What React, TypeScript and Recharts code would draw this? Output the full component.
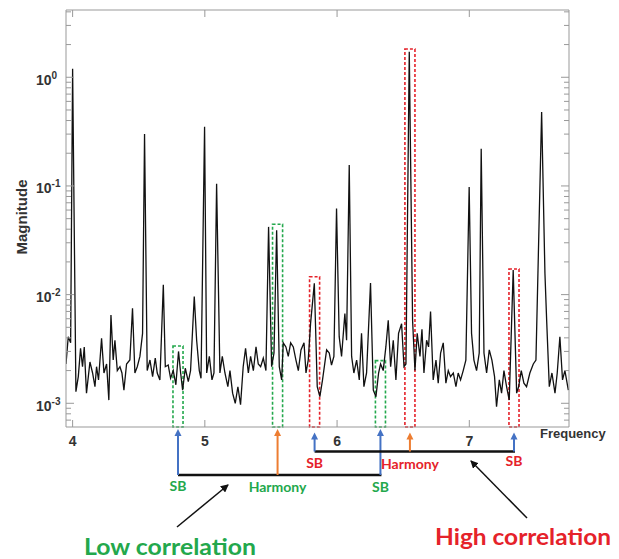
import React from 'react';
import { LineChart, Line, XAxis, YAxis, ReferenceArea } from 'recharts';

// spectrum (frequency, magnitude)
const freqs = [
  3.95, 3.967, 3.985, 4.0, 4.025, 4.043, 4.06, 4.075, 4.088, 4.105, 4.131, 4.151, 4.169, 4.181, 4.196,
  4.219, 4.237, 4.257, 4.274, 4.29, 4.307, 4.32, 4.338, 4.358, 4.373, 4.388, 4.408, 4.433, 4.453, 4.471,
  4.489, 4.509, 4.529, 4.544, 4.564, 4.585, 4.605, 4.625, 4.64, 4.66, 4.686, 4.701, 4.723, 4.741, 4.761,
  4.781, 4.801, 4.817, 4.832, 4.852, 4.875, 4.892, 4.92, 4.938, 4.958, 4.971, 4.998, 5.014, 5.034, 5.054,
  5.069, 5.089, 5.114, 5.132, 5.152, 5.174, 5.19, 5.21, 5.23, 5.25, 5.27, 5.29, 5.308, 5.329, 5.346,
  5.367, 5.387, 5.404, 5.422, 5.442, 5.462, 5.482, 5.505, 5.523, 5.543, 5.563, 5.581, 5.593, 5.613, 5.631,
  5.649, 5.669, 5.689, 5.707, 5.727, 5.75, 5.765, 5.782, 5.8, 5.828, 5.85, 5.87, 5.89, 5.921, 5.941,
  5.958, 5.976, 5.996, 6.016, 6.034, 6.059, 6.072, 6.092, 6.11, 6.127, 6.148, 6.168, 6.185, 6.203, 6.223,
  6.253, 6.274, 6.294, 6.314, 6.329, 6.349, 6.369, 6.387, 6.405, 6.425, 6.445, 6.465, 6.488, 6.506, 6.521,
  6.546, 6.571, 6.589, 6.606, 6.627, 6.642, 6.657, 6.677, 6.692, 6.707, 6.727, 6.748, 6.765, 6.783, 6.803,
  6.823, 6.841, 6.858, 6.879, 6.899, 6.916, 6.934, 6.954, 6.974, 6.999, 7.017, 7.035, 7.055, 7.075, 7.09,
  7.111, 7.131, 7.151, 7.171, 7.191, 7.206, 7.227, 7.244, 7.262, 7.282, 7.302, 7.332, 7.358, 7.373, 7.393,
  7.413, 7.433, 7.458, 7.484, 7.504, 7.547, 7.572, 7.585, 7.605, 7.625, 7.648, 7.665, 7.685, 7.705, 7.723,
  7.749,
];
const mags = [
  2.3e-3, 4.1e-3, 3.6e-3, 1.2, 1.28e-3, 1.76e-3, 3.2e-3, 2.17e-3, 3.3e-3, 1.24e-3, 2.4e-3, 1.9e-3, 1.42e-3, 2.17e-3, 1.64e-3,
  3.96e-3, 1.9e-3, 2.3e-3, 1.07e-3, 6.5e-3, 2.5e-3, 3.8e-3, 2.0e-3, 2.17e-3, 1.9e-3, 1.32e-3, 2.3e-3, 2.5e-3, 7.5e-3, 1.9e-3,
  2.17e-3, 2.7e-3, 4.4e-3, 0.3, 2.0e-3, 2.5e-3, 1.76e-3, 2.6e-3, 1.9e-3, 1.64e-3, 0.0123, 2.17e-3, 2.25e-3, 1.7e-3, 2.0e-3,
  1.48e-3, 3.0e-3, 1.9e-3, 1.32e-3, 2.1e-3, 1.58e-3, 2.0e-3, 9.6e-3, 3.8e-3, 2.0e-3, 1.7e-3, 0.35, 1.9e-3, 2.7e-3, 1.64e-3,
  1.9e-3, 0.105, 1.9e-3, 2.7e-3, 1.9e-3, 1.42e-3, 2.0e-3, 1.24e-3, 1.0e-3, 1.42e-3, 0.97e-3, 2.17e-3, 3.2e-3, 1.9e-3, 2.7e-3,
  2.0e-3, 3.3e-3, 2.3e-3, 2.17e-3, 2.6e-3, 2.0e-3, 0.042, 2.17e-3, 2.9e-3, 0.039, 2.17e-3, 1.64e-3, 3.6e-3, 3.3e-3, 2.7e-3,
  3.6e-3, 3.3e-3, 2.5e-3, 2.0e-3, 3.1e-3, 3.6e-3, 1.9e-3, 2.5e-3, 5.5e-3, 0.0127, 1.42e-3, 1.15e-3, 1.64e-3, 3.1e-3, 2.9e-3,
  2.25e-3, 2.7e-3, 0.062, 4.1e-3, 2.7e-3, 6.7e-3, 3.8e-3, 0.156, 2.7e-3, 1.9e-3, 2.5e-3, 1.64e-3, 4.4e-3, 1.42e-3, 1.9e-3,
  0.0128, 1.32e-3, 1.15e-3, 1.9e-3, 2.3e-3, 2.0e-3, 3.3e-3, 5.8e-3, 2.17e-3, 3.8e-3, 1.64e-3, 4.4e-3, 5.4e-3, 2.17e-3, 2.3e-3,
  1.72, 5.8e-3, 2.0e-3, 4.4e-3, 2.7e-3, 4.8e-3, 1.9e-3, 3.8e-3, 3.3e-3, 7.0e-3, 1.64e-3, 2.5e-3, 1.53e-3, 2.9e-3, 3.6e-3,
  1.53e-3, 2.0e-3, 1.76e-3, 1.9e-3, 1.42e-3, 1.9e-3, 1.64e-3, 2.0e-3, 2.5e-3, 0.098, 4.4e-3, 2.5e-3, 2.0e-3, 2.9e-3, 0.22,
  2.9e-3, 1.9e-3, 3.1e-3, 2.5e-3, 1.76e-3, 0.93e-3, 1.64e-3, 1.24e-3, 2.0e-3, 1.42e-3, 1.07e-3, 0.0168, 1.24e-3, 1.42e-3, 2.0e-3,
  1.53e-3, 1.42e-3, 1.9e-3, 2.3e-3, 2.5e-3, 0.48, 0.0157, 5.8e-3, 1.42e-3, 1.9e-3, 1.24e-3, 1.9e-3, 4.1e-3, 1.64e-3, 2.0e-3,
  1.32e-3,
];

const X_MIN = 3.95;
const X_MAX = 7.754;
const Y_MIN = 6.05e-4;
const Y_MAX = 4.16;
const X_TICKS = [4, 5, 6, 7];
const Y_DECADES = [1e-4, 1e-3, 1e-2, 1e-1, 1];
const Y_TICKS: number[] = [];
Y_DECADES.forEach((d) => {
  for (let k = 1; k <= 9; k++) {
    const v = d * k;
    if (v >= Y_MIN && v <= Y_MAX) Y_TICKS.push(v);
  }
});

// annotated components: SB, Harmony, SB
const markerLabels = ['SB', 'Harmony', 'SB'];
const lowFreqs = [4.797, 5.55, 6.328];
const lowTops = [3.37e-3, 0.0444, 2.47e-3];
const highFreqs = [5.83, 6.551, 7.338];
const highTops = [0.0146, 1.82, 0.0172];

const GREEN = '#23a84c';
const RED = '#e5222a';
const BLUE = '#4472c4';
const ORANGE = '#ed7d31';
const AXIS = '#999';
const TEXT = '#333';
const FONT = '"Liberation Sans", Arial, sans-serif';
const LABEL_FONT = 'Lato, "Open Sans", sans-serif';

const W = 619;
const H = 559;
const PLOT_LEFT = 66;
const PLOT_RIGHT = 569;
const BOX_HALF = 0.038;

const data = freqs.map((f, i) => ({ f, m: mags[i] }));

const fx = (f: number) => PLOT_LEFT + ((f - X_MIN) / (X_MAX - X_MIN)) * (PLOT_RIGHT - PLOT_LEFT);

const isMajor = (v: number) => Math.abs(Math.log10(v) - Math.round(Math.log10(v))) < 1e-6;

const LeftTick = (props: any) => {
  const { x, y, payload } = props;
  const major = isMajor(payload.value);
  const exp = Math.round(Math.log10(payload.value));
  return (
    <g>
      <line x1={x} x2={x + (major ? 8 : 5)} y1={y} y2={y} stroke={AXIS} />
      {major && (
        <text x={x - 30} y={y + 7.5} fill={TEXT} fontFamily={FONT} fontWeight="bold" fontSize={14}>
          10
          <tspan dy={-6} fontSize={10}>{exp}</tspan>
        </text>
      )}
    </g>
  );
};

const RightTick = (props: any) => {
  const { x, y, payload } = props;
  const major = isMajor(payload.value);
  return <line x1={x} x2={x - (major ? 8 : 5)} y1={y} y2={y} stroke={AXIS} />;
};

const BottomTick = (props: any) => {
  const { x, y, payload } = props;
  return (
    <g>
      <line x1={x} x2={x} y1={y} y2={y - 7} stroke={AXIS} />
      <text x={x} y={y + 19} textAnchor="middle" fill={TEXT} fontFamily={FONT} fontWeight="bold" fontSize={14}>
        {payload.value}
      </text>
    </g>
  );
};

const TopTick = (props: any) => {
  const { x, y } = props;
  return <line x1={x} x2={x} y1={y} y2={y + 7} stroke={AXIS} />;
};

const Marker = ({ f, tip, base, color }: { f: number; tip: number; base: number; color: string }) => {
  const x = fx(f);
  return (
    <g>
      <line x1={x} x2={x} y1={base} y2={tip + 6} stroke={color} strokeWidth={2} />
      <polygon points={`${x - 3.5},${tip + 7} ${x + 3.5},${tip + 7} ${x},${tip}`} fill={color} />
    </g>
  );
};

const Group = ({ fs, tip, base, textColor, labelYs }: { fs: number[]; tip: number; base: number; textColor: string; labelYs: number[] }) => (
  <g>
    <line x1={fx(fs[0])} x2={fx(fs[2]) + 1} y1={base} y2={base} stroke="#111" strokeWidth={2.5} />
    {fs.map((f, i) => (
      <Marker key={i} f={f} tip={tip} base={base} color={markerLabels[i] === 'SB' ? BLUE : ORANGE} />
    ))}
    {fs.map((f, i) => (
      <text key={'t' + i} x={fx(f)} y={labelYs[i]} textAnchor="middle" fill={textColor} fontFamily={LABEL_FONT} fontWeight="bold" fontSize={14}>
        {markerLabels[i]}
      </text>
    ))}
  </g>
);

const Annotations = () => (
  <svg width={W} height={H} style={{ position: 'absolute', left: 0, top: 0, pointerEvents: 'none' }}>
    <defs>
      <marker id="ah" markerWidth="8" markerHeight="8" refX="7" refY="4" orient="auto" markerUnits="userSpaceOnUse">
        <path d="M0,0 L8,4 L0,8 z" fill="#111" />
      </marker>
    </defs>
    <text x={PLOT_RIGHT - 29} y={438} fill={TEXT} fontFamily={FONT} fontWeight="bold" fontSize={13}>
      Frequency
    </text>
    <text transform="translate(27,217) rotate(-90)" textAnchor="middle" fill={TEXT} fontFamily={FONT} fontWeight="bold" fontSize={15}>
      Magnitude
    </text>
    <Group fs={lowFreqs} tip={429} base={475} textColor={GREEN} labelYs={[491, 492, 492]} />
    <Group fs={highFreqs} tip={432.5} base={451.5} textColor={RED} labelYs={[468, 469, 466]} />
    <line x1={177} y1={527} x2={228} y2={485} stroke="#111" strokeWidth={1.5} markerEnd="url(#ah)" />
    <line x1={527} y1={518} x2={471} y2={461} stroke="#111" strokeWidth={1.5} markerEnd="url(#ah)" />
    <text x={84} y={555} fill={GREEN} fontFamily={LABEL_FONT} fontWeight="bold" fontSize={23} textLength={172} lengthAdjust="spacingAndGlyphs">
      Low correlation
    </text>
    <text x={435} y={545} fill={RED} fontFamily={LABEL_FONT} fontWeight="bold" fontSize={23} textLength={176} lengthAdjust="spacingAndGlyphs">
      High correlation
    </text>
  </svg>
);

export default function App() {
  return (
    <div style={{ position: 'relative', width: W, height: H, background: '#fff' }}>
      <style>{'body{margin:0}'}</style>
      <LineChart width={W} height={H} data={data} margin={{ top: 5, right: 40, bottom: 102, left: 6 }}>
        <XAxis xAxisId="b" dataKey="f" type="number" domain={[X_MIN, X_MAX]} ticks={X_TICKS} allowDataOverflow
          height={30} interval={0} tickSize={0} tickMargin={0} tickLine={false} axisLine={{ stroke: AXIS }} tick={<BottomTick />} />
        <XAxis xAxisId="t" orientation="top" dataKey="f" type="number" domain={[X_MIN, X_MAX]} ticks={X_TICKS} allowDataOverflow
          height={5} interval={0} tickSize={0} tickMargin={0} tickLine={false} axisLine={{ stroke: AXIS }} tick={<TopTick />} />
        <YAxis yAxisId="l" scale="log" type="number" domain={[Y_MIN, Y_MAX]} ticks={Y_TICKS} allowDataOverflow
          width={60} interval={0} tickSize={0} tickMargin={0} tickLine={false} axisLine={{ stroke: AXIS }} tick={<LeftTick />} />
        <YAxis yAxisId="r" orientation="right" scale="log" type="number" domain={[Y_MIN, Y_MAX]} ticks={Y_TICKS} allowDataOverflow
          width={10} interval={0} tickSize={0} tickMargin={0} tickLine={false} axisLine={{ stroke: AXIS }} tick={<RightTick />} />
        <Line xAxisId="t" yAxisId="r" dataKey="m" stroke="transparent" dot={false} activeDot={false} isAnimationActive={false} />
        <Line xAxisId="b" yAxisId="l" type="linear" dataKey="m" stroke="#111" strokeWidth={1.3} dot={false} activeDot={false} isAnimationActive={false} />
        {lowFreqs.map((f, i) => (
          <ReferenceArea key={'g' + i} xAxisId="b" yAxisId="l" x1={f - BOX_HALF} x2={f + BOX_HALF} y1={Y_MIN} y2={lowTops[i]}
            fill="none" stroke={GREEN} strokeWidth={1.6} strokeDasharray="3 2" />
        ))}
        {highFreqs.map((f, i) => (
          <ReferenceArea key={'r' + i} xAxisId="b" yAxisId="l" x1={f - BOX_HALF} x2={f + BOX_HALF} y1={Y_MIN} y2={highTops[i]}
            fill="none" stroke={RED} strokeWidth={1.6} strokeDasharray="3 2" />
        ))}
      </LineChart>
      <Annotations />
    </div>
  );
}
